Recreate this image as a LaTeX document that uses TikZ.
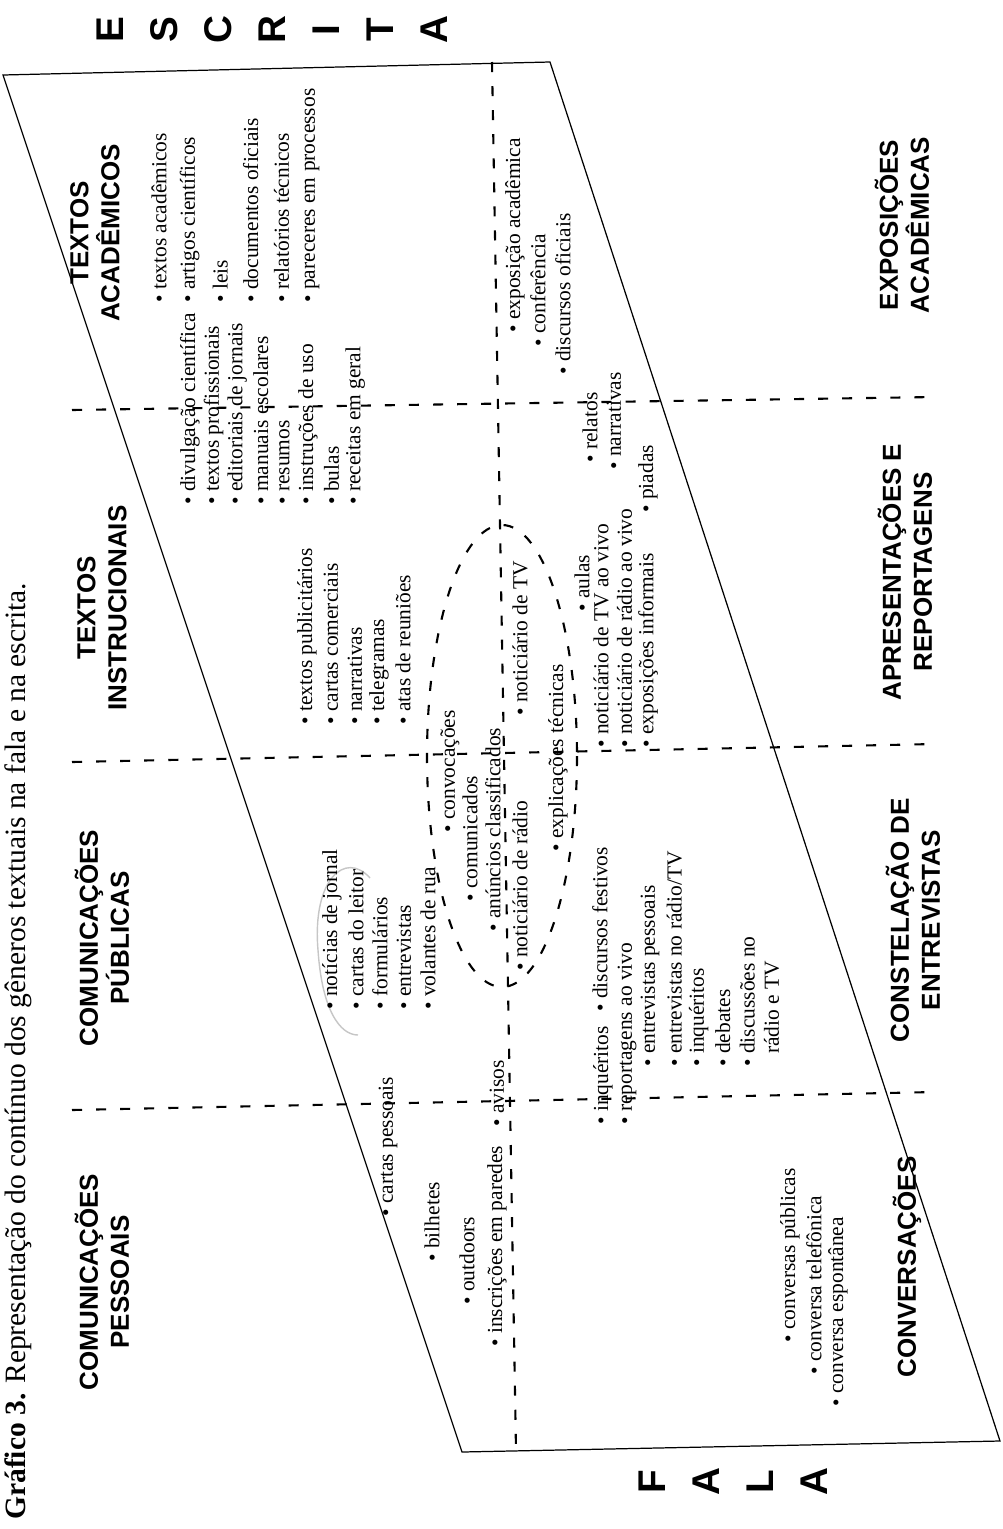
\documentclass[tikz,border=0pt]{standalone}
\usepackage{fontspec}
\setmainfont{Liberation Serif}
\newfontfamily\headfont{Liberation Sans}

\tikzset{
  item/.style={rotate=90, anchor=west, inner sep=0pt, font=\fontsize{12.2}{14}\selectfont},
  head/.style={rotate=90, align=center, inner sep=0pt, font=\headfont\bfseries\fontsize{14.8}{17.6}\selectfont},
  bigletter/.style={rotate=90, inner sep=0pt, font=\headfont\bfseries\fontsize{22}{22}\selectfont},
  divider/.style={line width=1.2pt, dash pattern=on 5.7pt off 8pt}
}

\begin{document}
\begin{tikzpicture}[x=0.02cm, y=-0.02cm]
\useasboundingbox (0,0) rectangle (1003,1529);

% titulo
\node[item, font=\fontsize{16.8}{19}\selectfont] (titulo) at (18,1520)
  {\textbf{Gráfico 3.} Representação do contínuo dos gêneros textuais na fala e na escrita.};

% paralelogramo
\coordinate (A) at (3,75);
\coordinate (B) at (550,62);
\coordinate (C) at (1000,1441);
\coordinate (D) at (462,1452);
\draw[line width=0.7pt] (A) -- (B) -- (C) -- (D) -- cycle;

% divisorias
\draw[divider] (492,62) -- (516,1450);
\draw[divider] (72,410) -- (935,397);
\draw[divider] (72,762) -- (935,744);
\draw[divider] (72,1110) -- (935,1092);

% elipse
\draw[divider] (502,756) ellipse [x radius=75, y radius=231];

% marca a lapis
\draw[gray!45, line width=0.8pt] (370,878) .. controls (345,850) and (312,880) .. (318,950)
  .. controls (322,1010) and (340,1035) .. (358,1035);

% escrita / fala
\foreach \l [count=\i from 0] in {E,S,C,R,I,T,A}
  \node[bigletter] (esc\i) at ({110+54*\i},30) {\l};
\foreach \l [count=\i from 0] in {F,A,L,A}
  \node[bigletter] (fal\i) at ({652+54*\i},1482) {\l};

% categorias
\node[head] (compes) at (102,1282) {COMUNICAÇÕES\\PESSOAIS};
\node[head] (compub) at (102,938) {COMUNICAÇÕES\\PÚBLICAS};
\node[head] (txtins) at (102,608) {TEXTOS\\INSTRUCIONAIS};
\node[head] (txtaca) at (95,233) {TEXTOS\\ACADÊMICOS};
\node[head] (conv) at (907,1267) {CONVERSAÇÕES};
\node[head] (const) at (913,920) {CONSTELAÇÃO DE\\ENTREVISTAS};
\node[head] (apres) at (905,572) {APRESENTAÇÕES E\\REPORTAGENS};
\node[head] (expos) at (902,225) {EXPOSIÇÕES\\ACADÊMICAS};

% escrita: generos
\foreach \t [count=\i from 0] in {textos acadêmicos, artigos científicos, leis,
    documentos oficiais, relatórios técnicos, pareceres em processos}
  \node[item] (aca\i) at ({159+30.6*\i},303) {• \t};
\foreach \t [count=\i from 0] in {divulgação científica, textos profissionais,
    editoriais de jornais, manuais escolares, resumos, instruções de uso, bulas,
    receitas em geral}
  \node[item] (ins\i) at ({190+23.6*\i},505) {• \t};
\foreach \t [count=\i from 0] in {textos publicitários, cartas comerciais,
    narrativas, telegramas, atas de reuniões}
  \node[item] (pub\i) at ({307+24*\i},725) {• \t};
\foreach \t [count=\i from 0] in {notícias de jornal, cartas do leitor,
    formulários, entrevistas, volantes de rua}
  \node[item] (jor\i) at ({332+24*\i},1010) {• \t};
\node[item] (cartas) at (388,1217) {• cartas pessoais};
\node[item] (bilh) at (432,1262) {• bilhetes};
\node[item] (outd) at (467,1305) {• outdoors};
\node[item] (inscr) at (497,1347) {• inscrições em paredes};
\node[item] (avisos) at (497,1127) {• avisos};

% dentro da elipse
\node[item] (convoc) at (450,833) {• convocações};
\node[item] (comun) at (470,902) {• comunicados};
\node[item] (anunc) at (493,932) {• anúncios classificados};
\node[item] (notrad) at (520,971) {• noticiário de rádio};
\node[item] (nottv) at (520,716) {• noticiário de TV};
\node[item] (explic) at (558,852) {• explicações técnicas};

% fala: generos
\node[item] (inq) at (603,1125) {• inquéritos};
\node[item] (repo) at (627,1125) {• reportagens ao vivo};
\foreach \t [count=\i from 0] in {entrevistas pessoais, entrevistas no rádio/TV,
    inquéritos, debates, discussões no, \phantom{• }rádio e TV}
  \node[item] (ent\i) at ({650+24.3*\i},1067) {\ifnum\i<5 • \fi\t};
\node[item] (festiv) at (600,1012) {• discursos festivos};
\foreach \t [count=\i from 0] in {conversas públicas, conversa telefônica,
    conversa espontânea}
  \node[item] (conv\i) at ({790+24*\i},{1343+32*\i}) {• \t};
\foreach \t [count=\i from 0] in {noticiário de TV ao vivo,
    noticiário de rádio ao vivo, exposições informais}
  \node[item] (viv\i) at ({601+23.5*\i},748) {• \t};
\node[item] (aulas) at (582,612) {• aulas};
\node[item] (relat) at (590,463) {• relatos};
\node[item] (narr) at (614,470) {• narrativas};
\node[item] (piad) at (648,513) {• piadas};
\node[item] (expac) at (515,333) {• exposição acadêmica};
\node[item] (confer) at (538,347) {• conferência};
\node[item] (discof) at (563,375) {• discursos oficiais};
\end{tikzpicture}
\end{document}
